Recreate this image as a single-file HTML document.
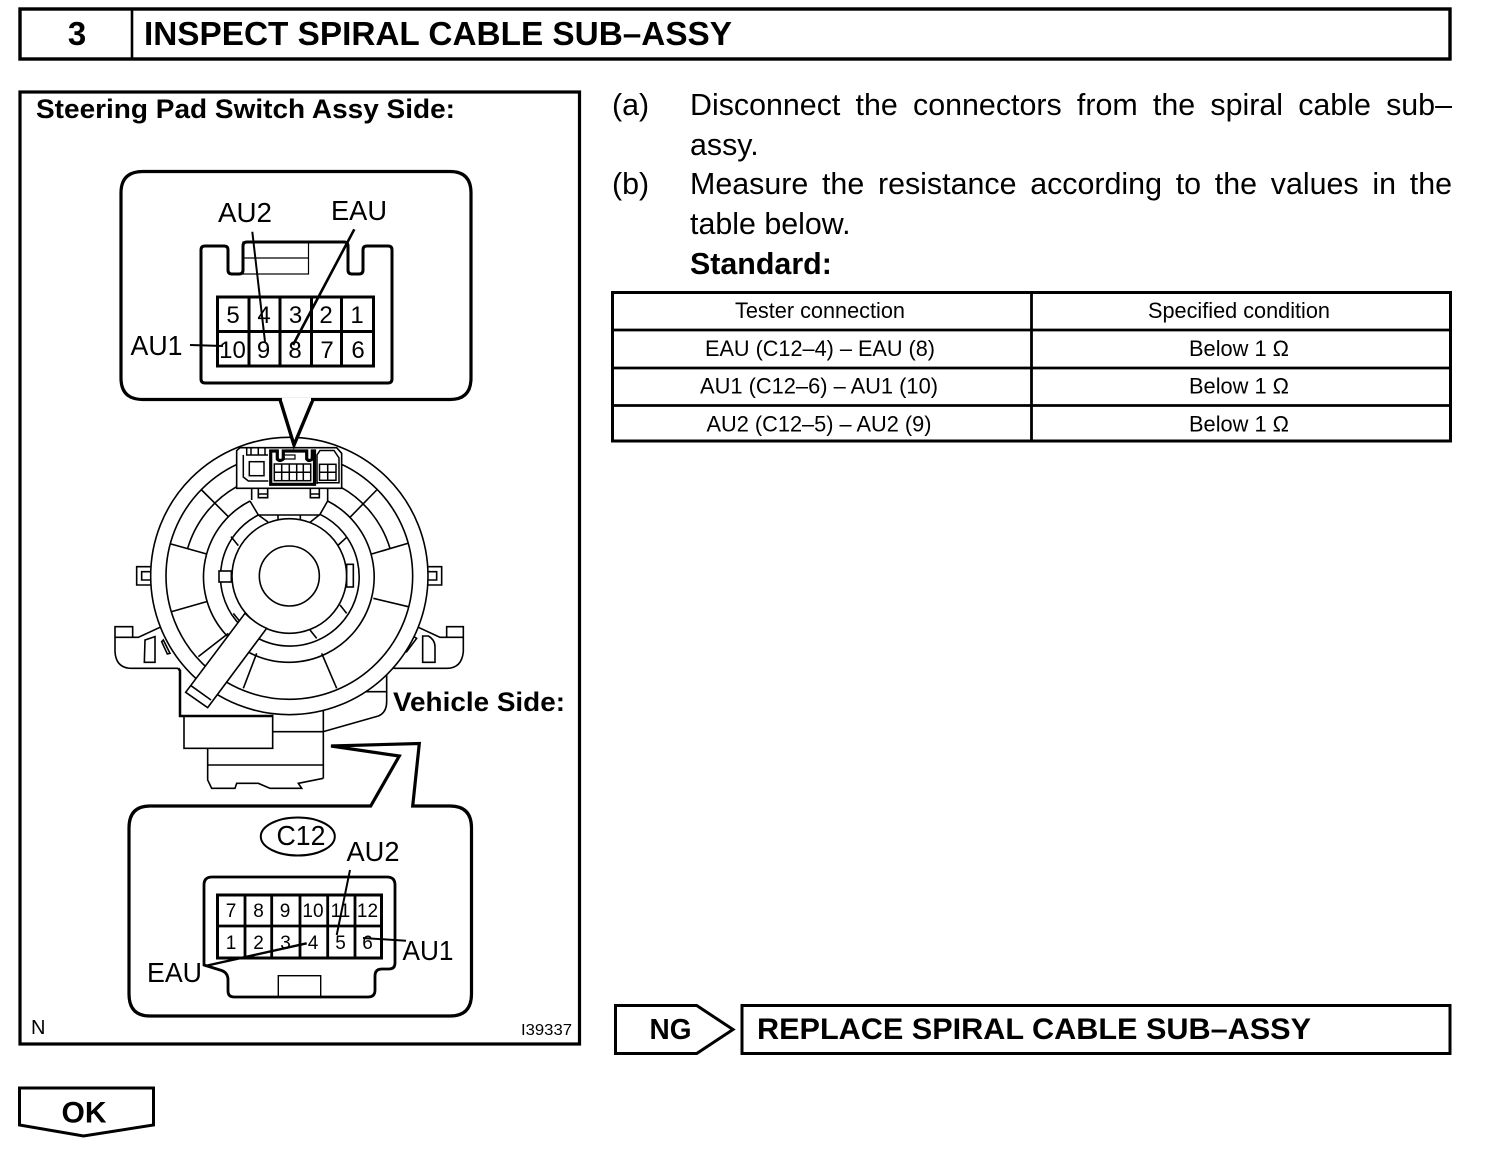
<!DOCTYPE html>
<html>
<head>
<meta charset="utf-8">
<style>
html,body{margin:0;padding:0;background:#fff;}
body{width:1504px;height:1150px;position:relative;overflow:hidden;font-family:"Liberation Sans",sans-serif;color:#000;}
svg{position:absolute;left:0;top:0;}
.l{position:absolute;font-size:30.4px;line-height:40px;white-space:nowrap;}
.j{left:690px;width:762px;text-align:justify;text-align-last:justify;white-space:normal;}
text{font-family:"Liberation Sans",sans-serif;fill:#000;stroke:none;}
.b{font-weight:bold;}
</style>
</head>
<body>
<svg width="1504" height="1150" viewBox="0 0 1504 1150" fill="none" stroke="#000">
  <!-- header -->
  <rect x="20" y="9" width="1430" height="50" stroke-width="3.4"/>
  <line x1="132" y1="9" x2="132" y2="59" stroke-width="2.6"/>
  <text class="b" x="77" y="45" font-size="33" text-anchor="middle">3</text>
  <text class="b" x="144" y="45" font-size="33" textLength="588" lengthAdjust="spacingAndGlyphs">INSPECT SPIRAL CABLE SUB–ASSY</text>

  <!-- left panel -->
  <rect x="20" y="92" width="559.5" height="952" stroke-width="3.2"/>
  <text class="b" x="36" y="118" font-size="27" textLength="419" lengthAdjust="spacingAndGlyphs">Steering Pad Switch Assy Side:</text>
  <text x="31" y="1034" font-size="20">N</text>
  <text x="521" y="1035" font-size="16" textLength="51" lengthAdjust="spacingAndGlyphs">I39337</text>

  <!-- upper callout -->
  <path d="M143 171.5 H450 Q471 171.5 471 193 V378 Q471 399.5 450 399.5 H143 Q121 399.5 121 378 V193 Q121 171.5 143 171.5 Z" stroke-width="3.2" fill="#fff"/>
  <rect x="243" y="242" width="65.5" height="32" stroke-width="1.2"/>
  <line x1="243" y1="258" x2="308.5" y2="258" stroke-width="1.2"/>
  <path d="M201 250 Q201 246 205 246 H224 Q228 246 228 250 V270 Q228 274 232 274 H239 Q243 274 243 270 V246 Q243 242 247 242 H344 Q348 242 348 246 V270 Q348 274 352 274 H359 Q363 274 363 270 V250 Q363 246 367 246 H388 Q392 246 392 250 V379 Q392 383 388 383 H205 Q201 383 201 379 Z" stroke-width="3"/>
  <rect x="217.5" y="297" width="156" height="69" stroke-width="3"/>
  <path d="M217.5 331.5 H373.5 M249 297 V366 M280 297 V366 M311.5 297 V366 M341.5 297 V366" stroke-width="3"/>
  <g font-size="24" text-anchor="middle">
    <text x="233" y="323">5</text><text x="264" y="323">4</text><text x="295.5" y="323">3</text><text x="326" y="323">2</text><text x="357" y="323">1</text>
    <text x="232.5" y="358">10</text><text x="263.5" y="358">9</text><text x="295" y="358">8</text><text x="327" y="358">7</text><text x="358" y="358">6</text>
  </g>
  <text x="218" y="222" font-size="28" textLength="54" lengthAdjust="spacingAndGlyphs">AU2</text>
  <text x="331" y="220" font-size="28" textLength="56" lengthAdjust="spacingAndGlyphs">EAU</text>
  <text x="130.5" y="355" font-size="28" textLength="52" lengthAdjust="spacingAndGlyphs">AU1</text>
  <line x1="252.3" y1="231.7" x2="265" y2="341.7" stroke-width="2"/>
  <line x1="354.3" y1="229.3" x2="293" y2="345" stroke-width="2.6"/>
  <line x1="190" y1="345" x2="223" y2="346" stroke-width="2"/>

  <!-- spiral cable, zoom coordinates -->
  <g transform="translate(110,430) scale(0.33333)" stroke-width="4.8">
    <!-- mount -->
    <path d="M68 622 V590 H15 V665 Q18 715 65 715 H205 M15 622 H85 L150 592"/>
    <path d="M105 630 L135 620 V697 H103 Z"/>
    <path d="M925 592 L990 622 H1060 M1010 622 V590 H1060 V665 Q1055 715 1010 715 H850"/>
    <path d="M938 618 H955 Q975 630 975 650 V697 H938 Z"/>
    <path d="M160 630 L180 670 L172 672 L155 635 Z"/>
    <path d="M890 665 L920 625 L912 620 L885 658 Z"/>
    <path d="M205 715 L210 722 V858 H490" stroke-width="7.5"/>
    <rect x="222" y="858" width="266" height="97"/>
    <path d="M488 905 H640 M640 840 V1045 M640 905 L805 858 Q830 848 830 815 V730 M765 785 H830"/>
    <path d="M293 955 V1050 L305 1075 H375 L380 1060 H445 L480 1075 H575 L565 1060 L640 1045 M293 1005 H640"/>
    <!-- side clips -->
    <path d="M122 410 H80 V465 H122 M122 425 H95 V450 H122"/>
    <path d="M955 410 H995 V465 H955 M955 425 H980 V450 H955"/>
    <!-- rings -->
    <circle cx="538" cy="438" r="416" fill="#fff"/>
    <circle cx="538" cy="438" r="370"/>
    <path d="M653 213 A256 256 0 1 1 420 213"/>
    <path d="M630 253 A208 208 0 1 1 445 255"/>
    <circle cx="538" cy="438" r="172"/>
    <circle cx="538" cy="438" r="90"/>
    <path d="M233 355 A315 315 0 0 1 380 170 M840 355 A315 315 0 0 0 690 170"/>
    <!-- radials -->
    <path d="M275 180 L355 260 M183 342 L290 372 M185 545 L290 515 M265 680 L355 610 M400 775 L440 670 M680 775 L635 670 M895 530 L790 505 M893 340 L785 372 M800 180 L720 262"/>
    <path d="M420 213 L445 255 L474 276 M653 213 L630 253 L600 277 M445 255 H630 M504 255 V270 M571 255 V270"/>
    <path d="M363 320 L385 347 M685 345 L710 322 M690 525 L710 550 M600 600 L620 625 M370 550 L390 575 M425 650 L445 620"/>
    <rect x="327" y="423" width="37" height="33" fill="#fff"/>
    <rect x="710" y="403" width="20" height="68" fill="#fff"/>
    <!-- strap -->
    <path d="M405 550 Q435 580 470 595 L293 833 L227 787 Z" fill="#fff"/>
    <path d="M243 767 L303 810"/>
    <!-- tabs under block -->
    <path d="M425 172 V210 M445 172 V203 H473 V172 M445 192 H473 M601 172 V203 H628 V172 M601 192 H628 M653 172 V213"/>
    <!-- connector block -->
    <path d="M380 62 L390 53 H680 L695 70 V175 H380 Z" fill="#fff"/>
  </g>
  <g stroke-width="1.5">
    <path d="M243.3 455 V477 L248.3 481 H268.3 M246.7 448 V455 H268 M251 448 V455 M258.3 448 V455 M265 448 V455"/>
    <rect x="249.3" y="461.7" width="14.7" height="14"/>
    <path d="M317 484 V455 L320 450.5 H334 L339 458 V482.7 H317"/>
    <rect x="319.5" y="464.3" width="16.5" height="16"/>
    <path d="M319.5 472.3 H336 M327.7 464.3 V480.3"/>
    <path d="M283.3 455 H295 V459 H283.3" stroke-width="1.2"/>
    <path d="M270.7 451 H277.3 V459 Q280 462 283.3 459 V451 H306.7 V459 Q309 462 312.3 459 V451 H314.5 V484.3 H270.7 Z" stroke-width="3.2" fill="none"/>
    <rect x="274.3" y="464" width="36.4" height="16.7"/>
    <path d="M274.3 472.3 H310.7 M281.7 464 V480.7 M289.3 464 V480.7 M296.7 464 V480.7 M303.3 464 V480.7"/>
  </g>
  <!-- upper pointer over the drawing -->
  <path d="M280 399.5 L294 445 L313 399.5" fill="#fff" stroke-width="3.4" stroke-linejoin="miter" stroke-miterlimit="10"/>
  <line x1="282" y1="399.5" x2="311" y2="399.5" stroke="#fff" stroke-width="3.4"/>

  <text class="b" x="393" y="711" font-size="27" textLength="172" lengthAdjust="spacingAndGlyphs">Vehicle Side:</text>

  <!-- lower callout -->
  <path d="M150 806 H370.7 L399.3 756 L331 746 L419.3 743.5 L412.7 806 H450 Q471.5 806 471.5 828 V994 Q471.5 1016 450 1016 H150 Q129 1016 129 994 V828 Q129 806 150 806 Z" stroke-width="3.2" fill="#fff"/>
  <ellipse cx="297.8" cy="836.5" rx="37" ry="19" stroke-width="2"/>
  <text x="276.5" y="845" font-size="28" textLength="49" lengthAdjust="spacingAndGlyphs">C12</text>
  <text x="346.5" y="861" font-size="28" textLength="53" lengthAdjust="spacingAndGlyphs">AU2</text>
  <text x="147" y="982" font-size="28" textLength="55" lengthAdjust="spacingAndGlyphs">EAU</text>
  <text x="402.5" y="960" font-size="28" textLength="51" lengthAdjust="spacingAndGlyphs">AU1</text>
  <path d="M204 965 L220 970 Q228 972 228 980 V991 Q228 997 234 997 H368 Q375 997 375 990 V976 Q375 969 382 969 H389 Q395 969 395 963 V885 Q395 877 387 877 H212 Q204 877 204 885 Z" stroke-width="2.8"/>
  <rect x="278.3" y="975.7" width="42.4" height="21" stroke-width="1.4"/>
  <rect x="217.5" y="895" width="164" height="63" stroke-width="3"/>
  <path d="M217.5 926 H381.5 M245 895 V958 M271.7 895 V958 M300 895 V958 M327.7 895 V958 M355 895 V958" stroke-width="2.8"/>
  <g font-size="19" text-anchor="middle">
    <text x="231" y="917">7</text><text x="258.5" y="917">8</text><text x="285" y="917">9</text><text x="313" y="917">10</text><text x="340.5" y="917">11</text><text x="367.5" y="917">12</text>
    <text x="231" y="949">1</text><text x="258.5" y="949">2</text><text x="285.5" y="949">3</text><text x="313" y="949">4</text><text x="340.5" y="949">5</text><text x="367.5" y="949">6</text>
  </g>
  <line x1="350" y1="870" x2="336.7" y2="935" stroke-width="2"/>
  <line x1="205" y1="966" x2="306.7" y2="943.3" stroke-width="2.4"/>
  <line x1="363" y1="938" x2="406" y2="940.7" stroke-width="2"/>

  <!-- table -->
  <rect x="612.5" y="292.5" width="838" height="148.5" stroke-width="3"/>
  <path d="M612 330 H1450 M612 368 H1450 M612 405.5 H1450 M1031.5 292 V441" stroke-width="2.8"/>
  <g font-size="22">
    <text x="735" y="318" textLength="170" lengthAdjust="spacingAndGlyphs">Tester connection</text>
    <text x="705" y="356" textLength="230" lengthAdjust="spacingAndGlyphs">EAU (C12–4) – EAU (8)</text>
    <text x="700" y="393.5" textLength="238" lengthAdjust="spacingAndGlyphs">AU1 (C12–6) – AU1 (10)</text>
    <text x="706.5" y="431.5" textLength="225" lengthAdjust="spacingAndGlyphs">AU2 (C12–5) – AU2 (9)</text>
    <text x="1148" y="318" textLength="182" lengthAdjust="spacingAndGlyphs">Specified condition</text>
    <text x="1189" y="356" textLength="100" lengthAdjust="spacingAndGlyphs">Below 1 Ω</text>
    <text x="1189" y="393.5" textLength="100" lengthAdjust="spacingAndGlyphs">Below 1 Ω</text>
    <text x="1189" y="431.5" textLength="100" lengthAdjust="spacingAndGlyphs">Below 1 Ω</text>
  </g>

  <!-- NG -->
  <path d="M615.5 1005.5 H696.7 L733 1029.5 L696.7 1053.5 H615.5 Z" stroke-width="3"/>
  <text class="b" x="649.5" y="1039" font-size="29" textLength="42" lengthAdjust="spacingAndGlyphs">NG</text>
  <rect x="742" y="1005.5" width="708" height="48" stroke-width="3"/>
  <text class="b" x="757" y="1039" font-size="30" textLength="554" lengthAdjust="spacingAndGlyphs">REPLACE SPIRAL CABLE SUB–ASSY</text>

  <!-- OK -->
  <path d="M19.5 1088 H153.5 V1125 L83.5 1136 L19.5 1125 Z" stroke-width="3"/>
  <text class="b" x="61.5" y="1122.5" font-size="30" textLength="45" lengthAdjust="spacingAndGlyphs">OK</text>
</svg>

<div class="l" style="left:612px;top:85px;">(a)</div>
<div class="l j" style="top:85px;">Disconnect the connectors from the spiral cable sub–</div>
<div class="l" style="left:690px;top:125px;">assy.</div>
<div class="l" style="left:612px;top:164px;">(b)</div>
<div class="l j" style="top:164px;">Measure the resistance according to the values in the</div>
<div class="l" style="left:690px;top:204px;">table below.</div>
<div class="l" style="left:690px;top:244px;font-weight:bold;">Standard:</div>
</body>
</html>
